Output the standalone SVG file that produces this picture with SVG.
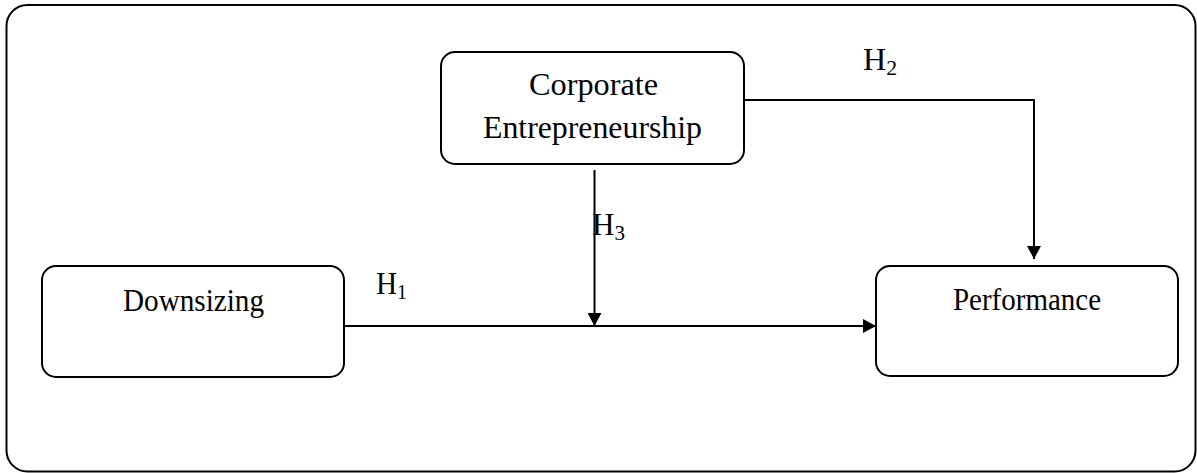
<svg xmlns="http://www.w3.org/2000/svg" width="1197" height="473" viewBox="0 0 1197 473">
  <style>
    .frame { fill: #ffffff; stroke: #000000; stroke-width: 2; }
    .box { fill: #ffffff; stroke: #000000; stroke-width: 2; }
    .link { fill: none; stroke: #000000; stroke-width: 2; }
    .label { font-family: "Liberation Serif", "Times New Roman", serif; font-size: 31px; fill: #000000; }
    .sub { font-size: 21px; }
  </style>
  <defs>
    <marker id="arrow" markerUnits="userSpaceOnUse" markerWidth="13" markerHeight="14" refX="13" refY="7" orient="auto">
      <path d="M0,0 L13,7 L0,14 z" fill="#000000"/>
    </marker>
  </defs>

  <!-- outer frame -->
  <rect class="frame" x="6.5" y="5" width="1189" height="466.5" rx="21" ry="21"/>

  <!-- connectors -->
  <g id="connectors">
    <!-- H1: Downsizing -> Performance -->
    <line class="link" x1="344" y1="326" x2="876" y2="326" marker-end="url(#arrow)"/>
    <!-- H2: Corporate Entrepreneurship -> Performance -->
    <polyline class="link" points="744,100 1034,100 1034,259" marker-end="url(#arrow)"/>
    <!-- H3: moderation onto the H1 path -->
    <line class="link" x1="594.5" y1="170" x2="594.5" y2="326" marker-end="url(#arrow)"/>
  </g>

  <!-- hypothesis labels -->
  <g id="labels">
    <text class="label" x="376" y="294" textLength="31" lengthAdjust="spacingAndGlyphs">H<tspan class="sub" dy="5">1</tspan></text>
    <text class="label" x="863" y="70" textLength="34" lengthAdjust="spacingAndGlyphs">H<tspan class="sub" dy="5">2</tspan></text>
    <text class="label" x="592" y="235" textLength="33" lengthAdjust="spacingAndGlyphs">H<tspan class="sub" dy="5">3</tspan></text>
  </g>

  <g id="node-corporate">
    <rect class="box" x="441" y="52" width="303" height="112" rx="14" ry="14"/>
    <text class="label" x="529" y="95" textLength="129" lengthAdjust="spacingAndGlyphs">Corporate</text>
    <text class="label" x="483" y="138" textLength="219" lengthAdjust="spacingAndGlyphs">Entrepreneurship</text>
  </g>

  <g id="node-downsizing">
    <rect class="box" x="42" y="266" width="302" height="111" rx="14" ry="14"/>
    <text class="label" x="123" y="311" textLength="141" lengthAdjust="spacingAndGlyphs">Downsizing</text>
  </g>

  <g id="node-performance">
    <rect class="box" x="876" y="266" width="302" height="110" rx="14" ry="14"/>
    <text class="label" x="953" y="310" textLength="148" lengthAdjust="spacingAndGlyphs">Performance</text>
  </g>
</svg>
